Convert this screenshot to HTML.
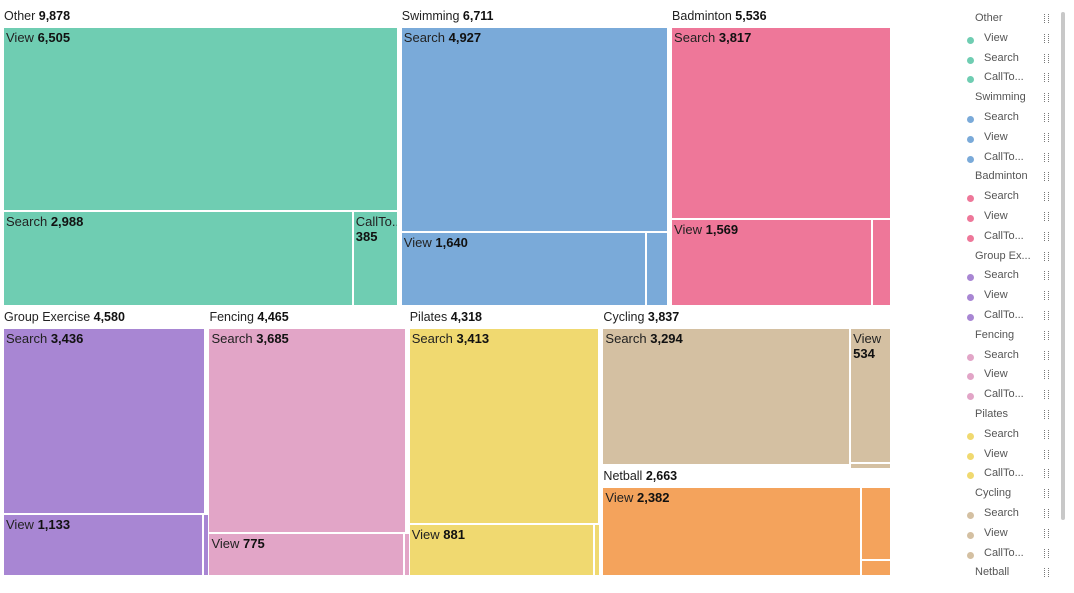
<!DOCTYPE html>
<html><head><meta charset="utf-8"><style>
body{margin:0;width:1074px;height:593px;background:#fff;font-family:"Liberation Sans",sans-serif;overflow:hidden;position:relative}
.g{position:absolute;font-size:12.5px;color:#222;white-space:nowrap}
.leaf{position:absolute;box-sizing:border-box;border:1px solid #fff;font-size:13px;color:#222;overflow:hidden;padding:2px 2px;line-height:15px}
b{color:#111}
.lg{position:absolute;font-size:11px;color:#555;white-space:nowrap}
.dot{position:absolute;width:7px;height:7px;border-radius:50%}
.menu{position:absolute;width:3px;height:9px;border-left:1px dotted #777;border-right:1px dotted #777;left:1044px}
</style></head><body>
<div id="chart"></div>
<div id="legend"></div>
<div style="position:absolute;left:1061px;top:12px;width:4px;height:508px;background:#c8c8c8;border-radius:2px"></div>
<script>
const groups=["Other","Swimming","Badminton","Group Exercise","Fencing","Pilates","Cycling","Netball"];
const groupTotals=[9878,6711,5536,4580,4465,4318,3837,2663];
const childNames=[["View","Search","CallTo..."],["Search","View","CallTo..."],["Search","View","CallTo..."],["Search","View","CallTo..."],["Search","View","CallTo..."],["Search","View","CallTo..."],["Search","View","CallTo..."],["View","Search","CallTo..."]];
const childValues=[[6505,2988,385],[4927,1640,144],[3817,1569,150],[3436,1133,11],[3685,775,5],[3413,881,24],[3294,534,9],[2382,230,51]];
const colors=["#6fcdb2","#7aaad9","#ee7799","#a886d3","#e2a5c7","#f0d970","#d4c0a2","#f4a35c"];
const firstSplit=["top","top","top","top","top","top","left","left"];
const fmt=v=>v.toLocaleString("en-US");
const chart=document.getElementById("chart");
const X0=3,X1=894,Y0=8,Y1=579;
const total=groupTotals.reduce((a,b)=>a+b,0);
const rects=[];
// row 1: groups 0-2
const row1=groupTotals.slice(0,3).reduce((a,b)=>a+b,0);
const h1=(Y1-Y0)*row1/total;
let x=X0;
for(let i=0;i<3;i++){const w=(X1-X0)*groupTotals[i]/row1;rects[i]={x:x,y:Y0,w:w,h:h1};x+=w;}
// row 2: groups 3-5 then column 6-7
const row2=total-row1;const y2=Y0+h1;const h2=Y1-y2;
x=X0;
for(let i=3;i<6;i++){const w=(X1-X0)*groupTotals[i]/row2;rects[i]={x:x,y:y2,w:w,h:h2};x+=w;}
const colT=groupTotals[6]+groupTotals[7];let yy=y2;
for(let i=6;i<8;i++){const hh=h2*groupTotals[i]/colT;rects[i]={x:x,y:yy,w:X1-x,h:hh};yy+=hh;}
const GAP=3,HEAD=19;
groups.forEach((g,i)=>{
  const r=rects[i];
  const gx=r.x,gy=r.y,gw=r.w-GAP,gh=r.h-GAP;
  const lab=document.createElement("div");lab.className="g";
  
  
  lab.style.left=(gx+1)+"px";lab.style.top=(gy+1)+"px";
  lab.innerHTML=g+" <b>"+fmt(groupTotals[i])+"</b>";chart.appendChild(lab);
  let ax=gx,ay=gy+HEAD,aw=gw,ah=gh-HEAD;
  const vals=childValues[i];let rem=vals.reduce((a,b)=>a+b,0);
  let dir=firstSplit[i];
  vals.forEach((v,j)=>{
    let lx,ly,lw,lh;
    if(j===vals.length-1){lx=ax;ly=ay;lw=aw;lh=ah;}
    else if(dir==="top"){lh=ah*v/rem;lx=ax;ly=ay;lw=aw;ay+=lh;ah-=lh;}
    else{lw=aw*v/rem;lx=ax;ly=ay;lh=ah;ax+=lw;aw-=lw;}
    rem-=v;dir=dir==="top"?"left":"top";
    const d=document.createElement("div");d.className="leaf";
    
    
    d.style.left=lx+"px";d.style.top=ly+"px";d.style.width=lw+"px";d.style.height=lh+"px";d.style.background=colors[i];
    if(lw>40&&lh>20)d.innerHTML=childNames[i][j]+" <b>"+fmt(v)+"</b>";
    chart.appendChild(d);
  });
});
// legend
const legend=document.getElementById("legend");
let ly=12;
groups.forEach((g,i)=>{
  const t=document.createElement("div");t.className="lg";
  
  
  t.style.left="975px";t.style.top=ly+"px";t.textContent=g.length>9?g.slice(0,8)+"...":g;legend.appendChild(t);
  const m=document.createElement("div");m.className="menu";m.style.top=(ly+2)+"px";
  
  
  legend.appendChild(m);
  ly+=19.8;
  if(i<7){childNames[i].forEach(c=>{
    if(ly>580)return;
    const dt=document.createElement("div");dt.className="dot";dt.style.left="967px";dt.style.top=(ly+5)+"px";dt.style.background=colors[i];
    
    
    legend.appendChild(dt);
    const e=document.createElement("div");e.className="lg";e.style.left="984px";e.style.top=ly+"px";e.textContent=c;
    
    
    legend.appendChild(e);
    const mm=document.createElement("div");mm.className="menu";mm.style.top=(ly+2)+"px";
    
    
    legend.appendChild(mm);
    ly+=19.8;
  });}
});
</script>
</body></html>
